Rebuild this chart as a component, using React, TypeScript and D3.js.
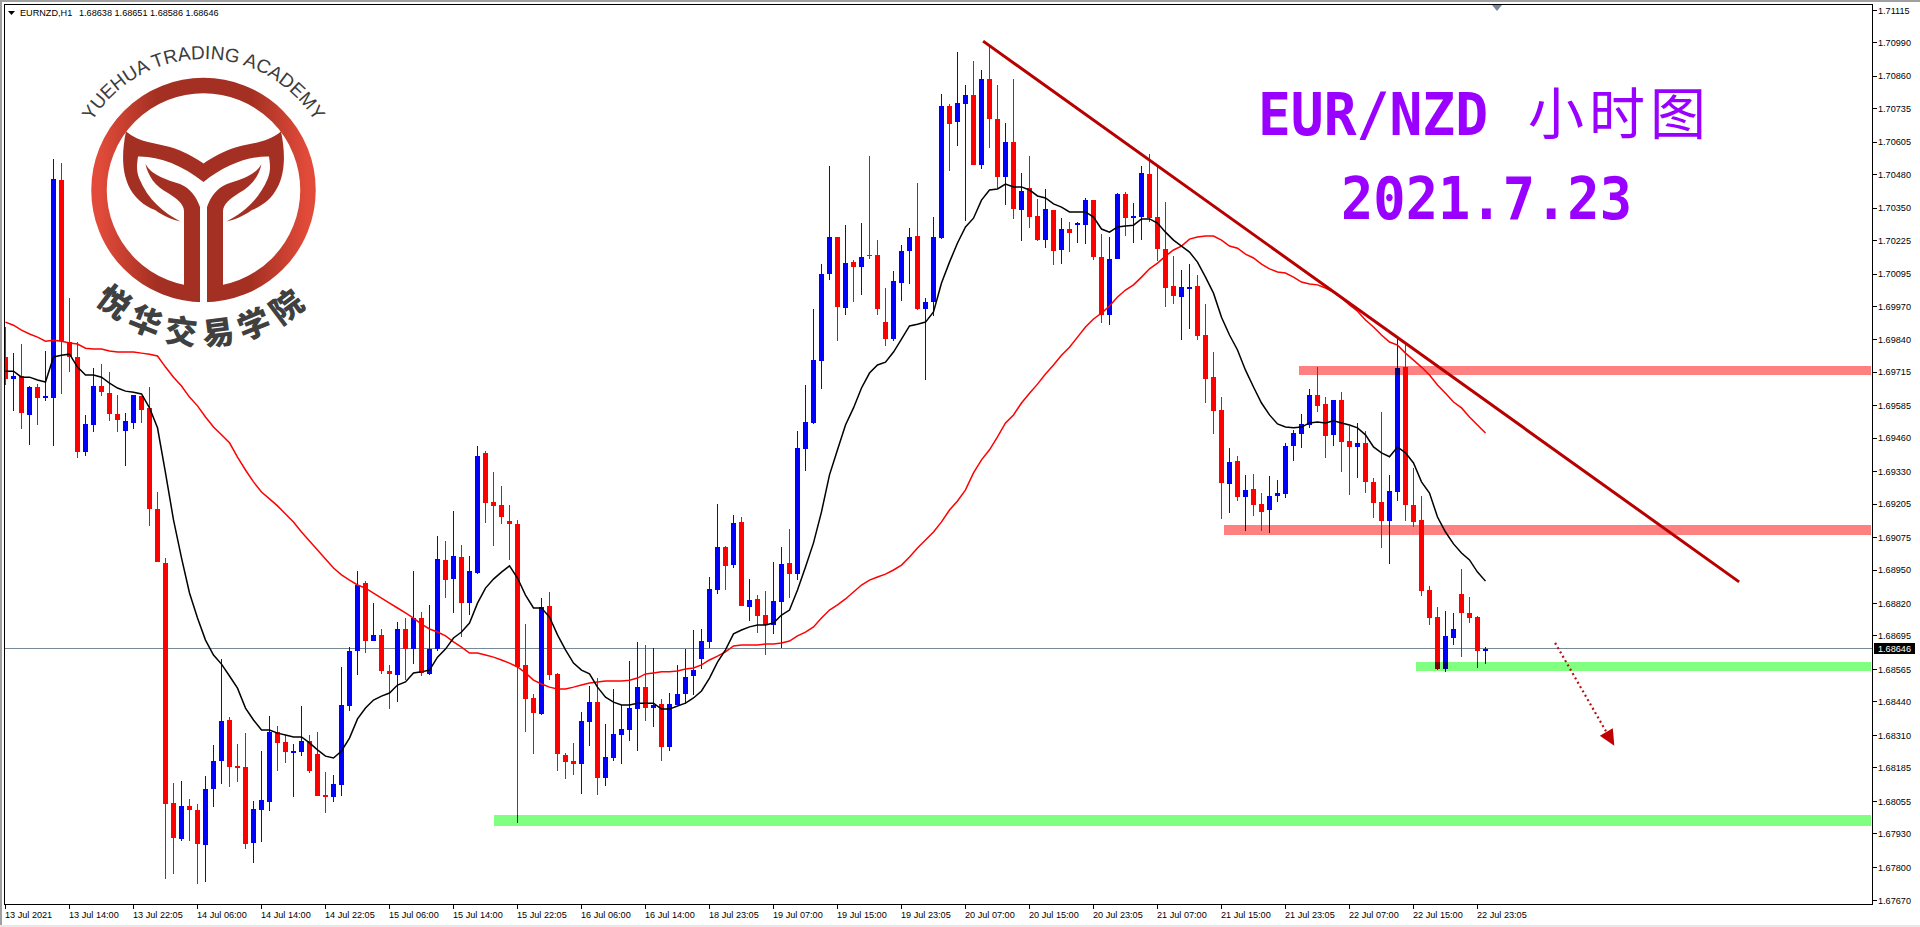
import React from "react";
import * as d3 from "d3";

// All prices are in points (price x 100000).
const opens = [169774,169689,169700,169550,169658,169615,169615,170458,169832,169774,169407,169511,169662,169634,169554,169488,169519,169623,169577,169186,168977,168048,167909,168037,168021,167886,168103,168211,168370,168192,168188,167894,168021,168052,168323,168285,168242,168246,168288,168238,168079,168072,168118,168424,168637,168900,168675,168699,168559,168544,168722,168644,168764,168547,168644,168989,168915,169001,168822,168938,169403,169213,169202,169140,169128,168583,168455,168393,168811,168548,168234,168211,168199,168362,168439,168145,168223,168312,168331,168412,168497,168416,168432,168265,168428,168470,168540,168606,168672,168873,169039,168970,169136,168807,168837,168776,168737,168826,168977,168934,169418,169519,169758,170095,170238,169963,170141,170122,170168,170168,169909,169843,170060,170184,170242,169959,169986,170234,170745,170683,170752,170787,170517,170849,170694,170470,170606,170342,170428,170319,170226,170342,170188,170269,170284,170284,170381,170161,169936,170153,170404,170311,170315,170482,170315,170192,170049,170006,170037,170049,169859,169696,169569,169283,169372,169233,169264,169205,169182,169237,169244,169430,169476,169511,169627,169592,169473,169608,169449,169426,169442,169291,169213,169140,169252,169735,169202,169144,168873,168768,168567,168687,168857,168784,168768,168638];
const closes = [169689,169700,169558,169658,169615,169623,170462,169835,169774,169407,169515,169662,169638,169554,169531,169527,169627,169569,169186,168981,168045,167913,168037,168021,167890,168103,168211,168366,168188,168184,167890,168025,168060,168323,168281,168246,168250,168288,168172,168075,168072,168122,168428,168637,168892,168675,168699,168559,168547,168722,168644,168764,168551,168644,168993,168911,169004,168822,168946,169391,169209,169198,169155,169128,168575,168451,168397,168807,168544,168238,168207,168199,168366,168439,168145,168226,168315,168335,168416,168497,168416,168428,168265,168432,168470,168536,168563,168675,168876,169039,168966,169132,168811,168834,168772,168737,168830,168973,168935,169423,169523,169762,170095,170238,169967,170137,170122,170161,170164,169959,169843,170068,170184,170238,169959,169986,170238,170745,170675,170756,170787,170517,170849,170694,170470,170606,170346,170416,170315,170226,170346,170184,170269,170253,170292,170381,170161,169936,170153,170404,170311,170319,170486,170311,170192,170041,170010,170045,170045,169855,169689,169565,169287,169368,169233,169260,169202,169175,169237,169248,169430,169480,169515,169627,169585,169469,169608,169446,169426,169442,169291,169209,169140,169256,169731,169202,169136,168869,168764,168567,168695,168722,168784,168764,168637,168646];
const highs = [169890,169789,169824,169662,169669,169797,170540,170524,170002,169832,169550,169731,169746,169716,169627,169558,169627,169623,169658,169252,168997,168126,168134,168064,168045,168153,168273,168606,168381,168277,168319,168056,168250,168385,168346,168312,168277,168424,168312,168323,168168,168157,168575,168652,168946,168908,168822,168722,168583,168749,168764,168946,168788,168815,169082,169062,169178,169047,169004,169430,169411,169329,169275,169202,169144,168741,168470,168841,168865,168552,168242,168281,168401,168501,168532,168354,168490,168428,168598,168672,168660,168648,168451,168474,168583,168644,168718,168722,168923,169205,169043,169163,169155,168915,168853,168868,168981,169039,169109,169488,169666,169959,170133,170513,170238,170284,170149,170292,170551,170226,170041,170106,170207,170273,170447,170002,170315,170791,170752,170954,170826,170919,170884,170973,170826,170679,170849,170486,170551,170385,170424,170342,170311,170296,170296,170389,170381,170249,170238,170408,170412,170370,170513,170559,170513,170374,170164,170110,170133,170091,169979,169793,169619,169422,169391,169318,169322,169248,169314,169298,169442,169492,169554,169650,169735,169619,169608,169638,169507,169519,169488,169306,169562,169318,169843,169820,169345,169237,168888,168807,168791,168784,168954,168845,168772,168651];
const lows = [169666,169565,169496,169434,169511,169604,169430,169630,169716,169383,169391,169484,169623,169527,169484,169353,169496,169519,169120,168981,167754,167774,167901,167901,167735,167743,168033,168122,168111,168130,167870,167816,167898,168017,168172,168203,168072,168230,168165,168075,168010,168052,168075,168405,168544,168629,168675,168547,168412,168439,168524,168586,168540,168544,168637,168841,168784,168691,168776,168934,169132,169043,169128,168989,167971,168323,168238,168389,168524,168172,168141,168157,168083,168269,168079,168114,168211,168199,168288,168250,168366,168343,168211,168250,168428,168432,168466,168567,168648,168857,168873,168958,168811,168753,168706,168621,168703,168648,168841,168911,169333,169515,169650,170072,169835,169936,169986,170014,170153,169936,169816,169835,169990,170056,169955,169684,169932,170230,170493,170590,170300,170517,170501,170582,170428,170362,170308,170222,170273,170222,170195,170130,170133,170180,170215,170211,170149,169905,169897,170153,170242,170215,170226,170296,170145,169967,169979,169840,169882,169840,169596,169476,169148,169171,169217,169101,169159,169101,169093,169213,169229,169372,169422,169500,169562,169383,169430,169329,169240,169306,169248,169151,169036,168973,169217,169140,169117,168850,168737,168563,168556,168660,168614,168745,168571,168586];
const maFast = [169719,169719,169696,169696,169685,169677,169774,169781,169785,169735,169704,169704,169696,169673,169654,169642,169638,169631,169577,169500,169326,169144,168997,168861,168764,168679,168621,168586,168540,168493,168416,168370,168331,168331,168319,168312,168304,168304,168281,168254,168230,168223,168250,168300,168374,168416,168447,168462,168474,168505,168517,168552,168556,168563,168613,168644,168687,168710,168745,168822,168880,168915,168942,168966,168919,168853,168803,168803,168768,168699,168641,168590,168563,168548,168497,168458,168439,168428,168428,168435,168435,168435,168412,168412,168424,168435,168455,168482,168532,168594,168641,168703,168718,168730,168737,168737,168745,168776,168795,168873,168962,169055,169175,169318,169415,169511,169577,169654,169712,169743,169754,169793,169843,169894,169901,169909,169948,170060,170141,170215,170277,170311,170381,170420,170424,170443,170432,170432,170420,170397,170389,170366,170354,170335,170335,170335,170315,170269,170257,170277,170281,170284,170308,170308,170292,170257,170226,170203,170180,170141,170083,170021,169928,169859,169801,169723,169658,169596,169550,169515,169503,169500,169503,169519,169523,169519,169527,169519,169511,169500,169473,169426,169403,169388,169426,169403,169364,169291,169248,169155,169097,169051,169016,168989,168942,168907];
const maSlow = [169909,169897,169878,169863,169851,169835,169839,169835,169828,169824,169808,169805,169805,169797,169793,169793,169793,169789,169785,169778,169735,169696,169662,169619,169585,169542,169503,169473,169442,169387,169337,169291,169252,169225,169198,169167,169136,169097,169062,169027,168993,168958,168931,168911,168892,168880,168861,168841,168822,168803,168784,168764,168741,168722,168710,168695,168672,168652,168629,168629,168621,168613,168602,168590,168575,168552,168524,168509,168497,168490,168490,168497,168505,168513,168517,168521,168521,168521,168524,168532,168548,168552,168556,168556,168559,168567,168571,168583,168602,168617,168633,168656,168660,168660,168660,168664,168664,168668,168675,168695,168710,168730,168764,168795,168815,168838,168865,168892,168911,168923,168934,168950,168969,169000,169035,169066,169097,169136,169182,169217,169260,169326,169376,169415,169465,169519,169550,169596,169634,169669,169708,169743,169781,169812,169851,169890,169921,169944,169971,170006,170033,170053,170083,170115,170137,170164,170188,170203,170230,170238,170242,170242,170226,170203,170195,170172,170157,170133,170115,170103,170099,170083,170064,170056,170053,170041,170025,170002,169975,169951,169917,169890,169859,169832,169820,169789,169762,169735,169704,169666,169634,169600,169577,169542,169511,169480];

const priceTicks = ["1.71115","1.70990","1.70860","1.70735","1.70605","1.70480","1.70350","1.70225","1.70095","1.69970","1.69840","1.69715","1.69585","1.69460","1.69330","1.69205","1.69075","1.68950","1.68820","1.68695","1.68565","1.68440","1.68310","1.68185","1.68055","1.67930","1.67800","1.67670"];
const timeTicks = ["13 Jul 2021","13 Jul 14:00","13 Jul 22:05","14 Jul 06:00","14 Jul 14:00","14 Jul 22:05","15 Jul 06:00","15 Jul 14:00","15 Jul 22:05","16 Jul 06:00","16 Jul 14:00","18 Jul 23:05","19 Jul 07:00","19 Jul 15:00","19 Jul 23:05","20 Jul 07:00","20 Jul 15:00","20 Jul 23:05","21 Jul 07:00","21 Jul 15:00","21 Jul 23:05","22 Jul 07:00","22 Jul 15:00","22 Jul 23:05"];
const lastPrice = 168646;
const barsPerTimeTick = 8;

// zones: [first bar, upper price, lower price]
const pinkZones = [[161.7,169739,169704],[152.3,169124,169085]];
const greenZones = [[176.3,168594,168559],[61.1,168002,167960]];
const zoneEndBar = 233.2;
const trendBars = [122.2,216.7];
const trendPrices = [170996,168904];
const arrowBars = [193.7,201.1];
const arrowPrices = [168668,168270];

const W = 1920, H = 927;
const L = 4.5, T = 4.5, R = 1872.5, B = 904.5;
const x = d3.scaleLinear().domain([0, 185]).range([5.5, 1485.5]);
const y = d3.scaleLinear().domain([170990, 167800]).range([42.65, 867.3]);

const BLUE = "#0000ff", RED = "#ff0000";
const uiFont = "'Liberation Sans', Arial, sans-serif";

const lineGen = d3.line<number>().x((_, i) => x(i)).y((d) => y(d));

function Logo() {
  const cx = 203.5, cy = 190;
  const leaf = `M126,131.5 C140,143 156,143 170,147 C183,151 194,157 203.5,163.5 C213,157 224,151 237,147 C251,143 267,143 281,131.5
    C288,165 284,197 252,210 C242,217 234,220 226.5,221.5 C243,213 259,200 268,178 C271,170 270,164 269,156.5
    C248,156 225,165 203.5,182 C182,165 159,156 138,156.5 C137,164 136,170 139,178 C148,200 164,213 180.5,221.5
    C173,220 165,217 155,210 C123,197 119,165 126,131.5 Z`;
  const stems = `M145.5,164 C152,176 168,180 180,184 C190,188 196,196 200,207 L200,290 C199,296 194,300 188,301 L184,290 L184,284.5 L184,211
    C184,204 176,198 168,193 C155,186 148,176 145.5,164 Z
    M261.5,164 C255,176 239,180 227,184 C217,188 211,196 207,207 L207,290 C208,296 213,300 219,301 L223,290 L223,284.5 L223,211
    C223,204 231,198 239,193 C252,186 259,176 261.5,164 Z`;
  return (
    <g>
      <defs>
        <linearGradient id="ringGrad" x1="0" x2="1" y1="0" y2="0">
          <stop offset="0" stopColor="#e24b3a" />
          <stop offset="0.28" stopColor="#a33022" />
          <stop offset="0.72" stopColor="#a33022" />
          <stop offset="1" stopColor="#e24b3a" />
        </linearGradient>
        <path id="logoTop" d={`M${cx - 131 * Math.cos(0.42)},${cy - 131 * Math.sin(0.42)} A131,131 0 0 1 ${cx + 131 * Math.cos(0.42)},${cy - 131 * Math.sin(0.42)}`} fill="none" />
        <path id="logoBottom" d={`M${cx - 155 * Math.cos(0.72)},${cy + 155 * Math.sin(0.72)} A155,155 0 0 0 ${cx + 155 * Math.cos(0.72)},${cy + 155 * Math.sin(0.72)}`} fill="none" />
      </defs>
      <circle cx={cx} cy={cy} r={104.5} fill="none" stroke="url(#ringGrad)" strokeWidth={15.5} />
      <path d={leaf} fill="#a33022" />
      <path d={stems} fill="#a33022" />
      <rect x={200} y={284} width={7} height={20} fill="#ffffff" />
      <text fontFamily={uiFont} fontSize={19} fill="#3c3c3c">
        <textPath href="#logoTop" startOffset="50%" textAnchor="middle">YUEHUA TRADING ACADEMY</textPath>
      </text>
      <text fontFamily="'Noto Sans CJK SC', sans-serif" fontWeight={900} fontSize={32} fill="#404040" letterSpacing={8}>
        <textPath href="#logoBottom" startOffset="50%" textAnchor="middle">悦华交易学院</textPath>
      </text>
    </g>
  );
}

export default function App() {
  const arrowDir = Math.atan2(y(arrowPrices[1]) - y(arrowPrices[0]), x(arrowBars[1]) - x(arrowBars[0]));
  const tipX = x(arrowBars[1]), tipY = y(arrowPrices[1]);
  const head = [
    [tipX, tipY],
    [tipX - 16 * Math.cos(arrowDir) + 7.5 * Math.sin(arrowDir), tipY - 16 * Math.sin(arrowDir) - 7.5 * Math.cos(arrowDir)],
    [tipX - 16 * Math.cos(arrowDir) - 7.5 * Math.sin(arrowDir), tipY - 16 * Math.sin(arrowDir) + 7.5 * Math.cos(arrowDir)],
  ].map((p) => p.join(",")).join(" ");
  const lastY = Math.floor(y(lastPrice));

  return (
    <svg width={W} height={H} viewBox={`0 0 ${W} ${H}`} style={{ position: "fixed", left: 0, top: 0, display: "block", background: "#fff" }}>
      <defs>
        <clipPath id="plot"><rect x={5} y={5} width={R - 5} height={B - 5} /></clipPath>
      </defs>
      {/* window frame */}
      <rect x={0} y={0} width={W} height={2} fill="#a0a0a0" />
      <rect x={0} y={0} width={2} height={H} fill="#a0a0a0" />
      <rect x={0} y={925} width={W} height={2} fill="#e8e8e8" />

      <Logo />

      <g clipPath="url(#plot)">
        <line x1={L} x2={R} y1={lastY + 0.5} y2={lastY + 0.5} stroke="#778899" strokeWidth={1} />
        <g shapeRendering="crispEdges">
          {opens.map((o, i) => {
            const c = closes[i];
            const col = c >= o ? BLUE : RED;
            const top = y(Math.max(o, c));
            const bot = y(Math.min(o, c));
            return (
              <g key={i} fill={col}>
                <rect x={x(i) - 0.5} width={1} y={y(highs[i])} height={y(lows[i]) - y(highs[i])} />
                <rect x={x(i) - 2.5} width={5} y={top} height={Math.max(1, bot - top)} />
              </g>
            );
          })}
        </g>
        <path d={lineGen(maSlow) || ""} fill="none" stroke={RED} strokeWidth={1.5} />
        <path d={lineGen(maFast) || ""} fill="none" stroke="#000000" strokeWidth={1.5} />

        <g style={{ mixBlendMode: "multiply" }}>
          {pinkZones.map((z, i) => (
            <rect key={i} x={x(z[0])} width={x(zoneEndBar) - x(z[0])} y={y(z[1])} height={y(z[2]) - y(z[1])} fill="#ff8080" shapeRendering="crispEdges" />
          ))}
          {greenZones.map((z, i) => (
            <rect key={i} x={x(z[0])} width={x(zoneEndBar) - x(z[0])} y={y(z[1])} height={y(z[2]) - y(z[1])} fill="#80ff80" shapeRendering="crispEdges" />
          ))}
        </g>

        <line x1={x(trendBars[0])} y1={y(trendPrices[0])} x2={x(trendBars[1])} y2={y(trendPrices[1])} stroke="#b80000" strokeWidth={3} />
        <line x1={x(arrowBars[0])} y1={y(arrowPrices[0])} x2={tipX - 12 * Math.cos(arrowDir)} y2={tipY - 12 * Math.sin(arrowDir)} stroke="#b81010" strokeWidth={2.2} strokeDasharray="2 3" />
        <polygon points={head} fill="#c00000" />
      </g>

      {/* frame and axes */}
      <rect x={L} y={T} width={R - L} height={B - T} fill="none" stroke="#000" strokeWidth={1} shapeRendering="crispEdges" />
      <polygon points="1492,5 1502,5 1497,11" fill="#778899" />

      <g fontFamily={uiFont} fontSize={9.15} fill="#000">
        {priceTicks.map((t) => {
          const yy = y(+t * 100000);
          return (
            <g key={t}>
              <line x1={R} x2={R + 4} y1={Math.floor(yy) + 0.5} y2={Math.floor(yy) + 0.5} stroke="#000" shapeRendering="crispEdges" />
              <text x={1878} y={yy + 3.2}>{t}</text>
            </g>
          );
        })}
        {timeTicks.map((t, i) => {
          const xx = Math.floor(x(i * barsPerTimeTick));
          return (
            <g key={t}>
              <line x1={xx + 0.5} x2={xx + 0.5} y1={B} y2={B + 4} stroke="#000" shapeRendering="crispEdges" />
              <text x={xx} y={917.5}>{t}</text>
            </g>
          );
        })}
        <rect x={1874} y={lastY - 5} width={41} height={11} fill="#000" />
        <text x={1878} y={lastY + 3.7} fill="#fff">{(lastPrice / 100000).toFixed(5)}</text>

        <polygon points="8,11 15,11 11.5,15" fill="#000" />
        <text x={20} y={16}>EURNZD,H1</text>
        <text x={79} y={16}>1.68638 1.68651 1.68586 1.68646</text>
      </g>

      <g fill="#9900ff">
        <text x={1258} y={135} fontFamily="'DejaVu Sans Mono', monospace" fontWeight={700} fontSize={59} textLength={230} lengthAdjust="spacingAndGlyphs">EUR/NZD</text>
        <text x={1528} y={134} fontFamily="'Noto Sans CJK SC', sans-serif" fontWeight={400} fontSize={56} letterSpacing={5}>小时图</text>
        <text x={1341} y={219} fontFamily="'DejaVu Sans Mono', monospace" fontWeight={700} fontSize={59} textLength={291} lengthAdjust="spacingAndGlyphs">2021.7.23</text>
      </g>
    </svg>
  );
}
